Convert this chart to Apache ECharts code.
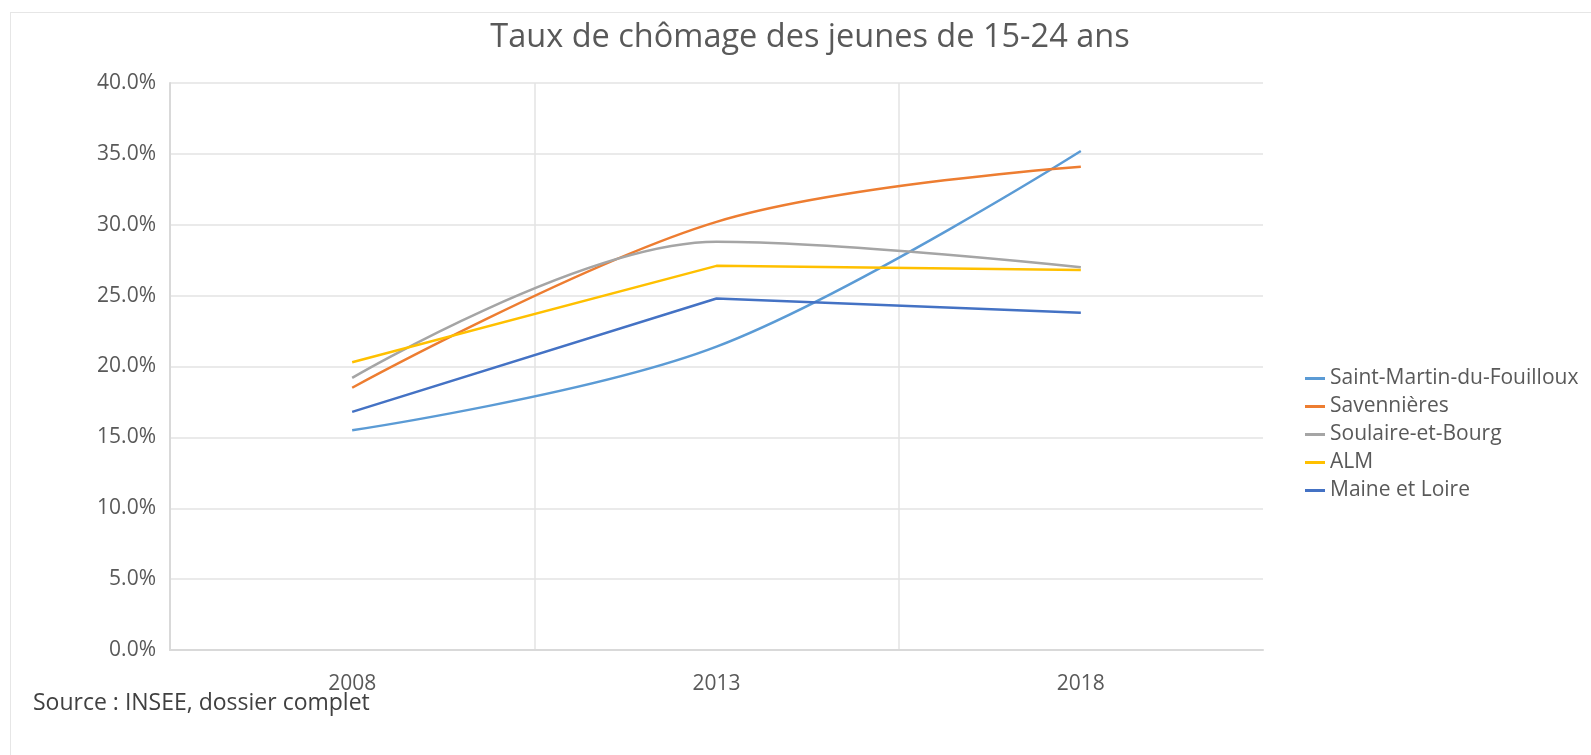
<!DOCTYPE html>
<html>
<head>
<meta charset="utf-8">
<title>Taux de chômage des jeunes</title>
<script src="https://cdn.jsdelivr.net/npm/echarts@6/dist/echarts.min.js"></script>
<style>
  html, body { margin: 0; padding: 0; background: #fff; }
  #frame { position: absolute; left: 10px; top: 12px; width: 1600px; height: 760px;
           border-left: 1px solid #e6e6e6; border-top: 1px solid #e6e6e6; }
  #chart { position: absolute; left: 0; top: 0; width: 1591px; height: 755px; }
</style>
</head>
<body>
<div id="frame"></div>
<div id="chart"></div>
<script>
// années
const years = ['2008', '2013', '2018'];

// taux de chômage des 15-24 ans (%)
const saintMartin = [15.5, 21.4, 35.2];
const savennieres = [18.5, 30.2, 34.1];
const soulaire = [19.2, 28.8, 27.0];
const alm = [20.3, 27.1, 26.8];
const maineEtLoire = [16.8, 24.8, 23.8];

const chart = echarts.init(document.getElementById('chart'));

const font = '"Open Sans", "Noto Sans", sans-serif';

const lineSeries = (name, data, color, smooth) => ({
  name,
  type: 'line',
  data,
  smooth,
  symbol: 'none',
  lineStyle: { color, width: 2.5 },
  itemStyle: { color },
});

chart.setOption({
  animation: false,
  title: {
    text: 'Taux de chômage des jeunes de 15-24 ans',
    left: 805,
    textAlign: 'center',
    top: 16,
    textStyle: { fontFamily: font, fontSize: 32.5, fontWeight: 'normal', color: '#595959' },
  },
  legend: {
    orient: 'vertical',
    left: 1300,
    top: 363,
    itemWidth: 20,
    itemHeight: 3,
    itemGap: 7,
    icon: 'rect',
    textStyle: { fontFamily: font, fontSize: 21, color: '#595959' },
  },
  graphic: [{
    type: 'text',
    left: 33,
    top: 692,
    style: { text: 'Source : INSEE, dossier complet', font: '23px ' + font, fill: '#404040' },
  }],
  grid: { left: 170, right: 328, top: 83, bottom: 105 },
  xAxis: {
    type: 'category',
    data: years,
    boundaryGap: true,
    axisLine: { lineStyle: { color: '#d9d9d9', width: 2 } },
    axisTick: { show: false },
    axisLabel: { fontFamily: font, fontSize: 21, color: '#595959', margin: 24 },
    splitLine: { show: true, showMinLine: false, showMaxLine: false, lineStyle: { color: '#e3e3e3', width: 1.5 } },
  },
  yAxis: {
    type: 'value',
    min: 0,
    max: 40,
    interval: 5,
    axisLine: { show: true, lineStyle: { color: '#d9d9d9', width: 2 } },
    axisTick: { show: false },
    axisLabel: {
      fontFamily: font, fontSize: 21, color: '#595959', margin: 14,
      formatter: (v) => v.toFixed(1) + '%',
    },
    splitLine: { lineStyle: { color: '#e3e3e3', width: 1.5 } },
  },
  series: [
    lineSeries('Saint-Martin-du-Fouilloux', saintMartin, '#5B9BD5', 0.35),
    lineSeries('Savennières', savennieres, '#ED7D31', 0.35),
    lineSeries('Soulaire-et-Bourg', soulaire, '#A5A5A5', 0.35),
    lineSeries('ALM', alm, '#FFC000', false),
    lineSeries('Maine et Loire', maineEtLoire, '#4472C4', false),
  ],
});

window.addEventListener('resize', () => chart.resize());
</script>
</body>
</html>
